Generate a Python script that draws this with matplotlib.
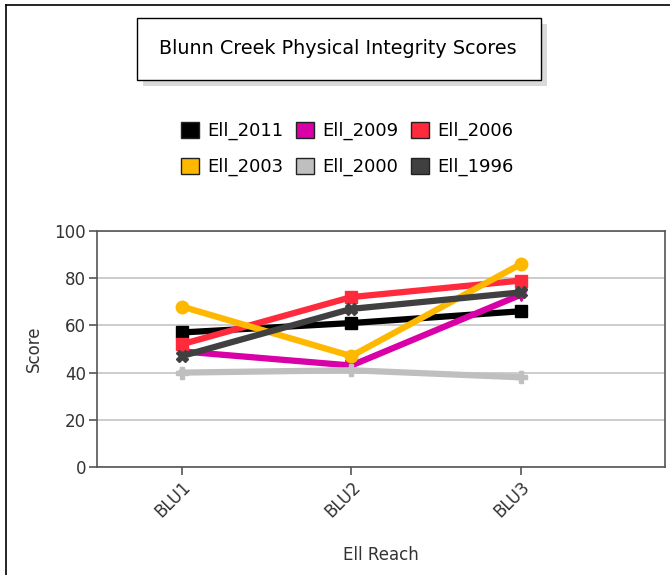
import matplotlib
matplotlib.use("Agg")
import matplotlib.pyplot as plt
from matplotlib.patches import Rectangle, Patch

plt.rcParams['font.family'] = ['DejaVu Sans']

reaches = ["BLU1", "BLU2", "BLU3"]
ell_2011 = [57, 61, 66]
ell_2009 = [49, 43, 73]
ell_2006 = [52, 72, 79]
ell_2003 = [68, 47, 86]
ell_2000 = [40, 41, 38]
ell_1996 = [47, 67, 74]

names = ["Ell_2011", "Ell_2009", "Ell_2006", "Ell_2003", "Ell_2000", "Ell_1996"]
series = [ell_2011, ell_2009, ell_2006, ell_2003, ell_2000, ell_1996]
colors = ["#000000", "#D800A6", "#FF2A3C", "#FFB800", "#BFBFBF", "#404040"]
markers = ["s", "v", "s", "o", "P", "X"]

W, H = 670, 575
fig = plt.figure(figsize=(W / 100, H / 100), dpi=100)

def fx(px):
    return px / W

def fy(py):
    return 1 - py / H

# outer frame (left and top visible)
fig.add_artist(plt.Line2D([fx(6), fx(6)], [0, fy(5)], color="black", lw=1.2, transform=fig.transFigure))
fig.add_artist(plt.Line2D([fx(6), 1], [fy(5), fy(5)], color="black", lw=1.2, transform=fig.transFigure))

# title box with shadow
fig.add_artist(Rectangle((fx(143), fy(86)), fx(404), 62 / H, transform=fig.transFigure,
                         facecolor="#d9d9d9", edgecolor="none", zorder=1))
fig.add_artist(Rectangle((fx(137), fy(80)), fx(404), 62 / H, transform=fig.transFigure,
                         facecolor="white", edgecolor="black", lw=1.0, zorder=2))
fig.text(fx(338), fy(49), "Blunn Creek Physical Integrity Scores", ha="center", va="center",
         fontsize=13.8, zorder=3)

ax = fig.add_axes([fx(97), fy(467), fx(665 - 97), (467 - 231) / H])
x = list(range(len(reaches)))
for vals, name, c, m in zip(series, names, colors, markers):
    ax.plot(x, vals, color=c, lw=4.5, marker=m, markersize=9, label=name)

ax.set_xlim(-0.5, 2.85)
ax.set_ylim(0, 100)
ax.set_yticks([0, 20, 40, 60, 80, 100])
ax.set_xticks(x)
ax.set_xticklabels(reaches, rotation=45, ha="right", rotation_mode="anchor")
ax.yaxis.grid(True, color="#c4c4c4", lw=1.2)
ax.set_axisbelow(True)
for s in ax.spines.values():
    s.set_color("#555555")
    s.set_linewidth(1.2)
ax.tick_params(colors="#555555", labelcolor="#333333", labelsize=12, length=6, width=1.2, pad=2)
ax.set_ylabel("Score", fontsize=12, color="#333333", labelpad=8)
ax.set_xlabel("Ell Reach", fontsize=12, color="#333333", labelpad=18)

# legend filled row-wise like the reference (matplotlib fills by column)
order = [0, 3, 1, 4, 2, 5]
handles = [Patch(facecolor=colors[i], edgecolor="#222222", lw=1.0) for i in order]
labels = [names[i] for i in order]
fig.legend(handles, labels, ncol=3, loc="center", bbox_to_anchor=(fx(347), fy(149)),
           frameon=False, fontsize=13, handlelength=1.0, handleheight=1.0,
           handletextpad=0.45, columnspacing=0.7, labelspacing=0.95)

fig.savefig("out.png", dpi=100)
